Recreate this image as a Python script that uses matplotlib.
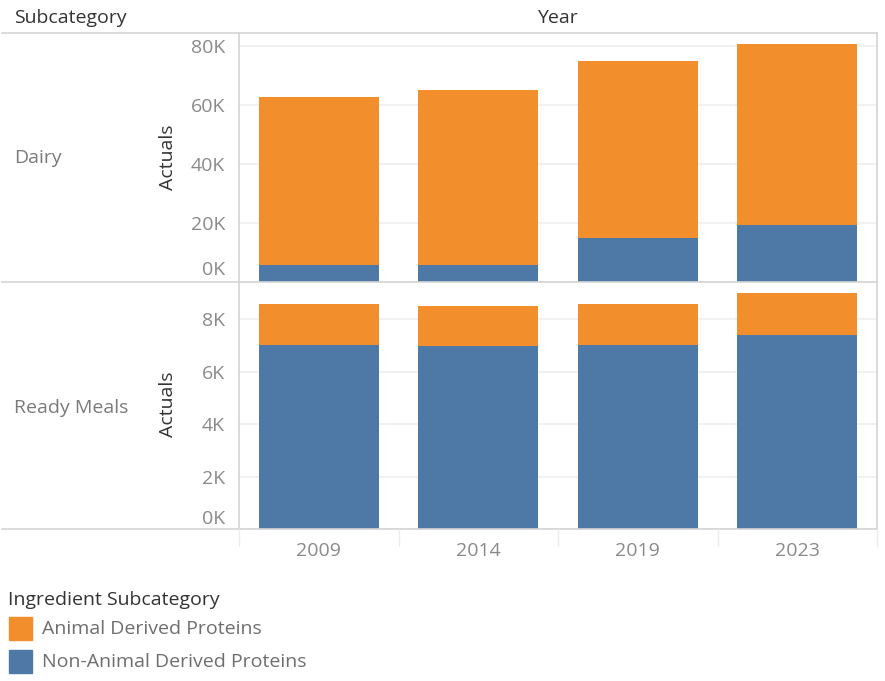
import matplotlib
matplotlib.use("Agg")
import matplotlib.pyplot as plt
import numpy as np
from matplotlib.transforms import ScaledTranslation
from matplotlib.lines import Line2D
from matplotlib.patches import Rectangle

plt.rcParams['font.family'] = ['Open Sans', 'DejaVu Sans']

years = ["2009", "2014", "2019", "2023"]
subcategories = ["Dairy", "Ready Meals"]
legend_labels = ["Animal Derived Proteins", "Non-Animal Derived Proteins"]

dairy_non_animal = [5.6, 5.6, 14.8, 19.4]      # K
dairy_animal = [57.2, 59.5, 60.2, 61.3]        # K
ready_non_animal = [7.02, 6.96, 7.01, 7.39]    # K
ready_animal = [1.56, 1.52, 1.55, 1.59]        # K

dairy_ticks = [0, 20, 40, 60, 80]
ready_ticks = [0, 2, 4, 6, 8]

ORANGE = "#F28E2B"
BLUE = "#4E79A7"
GRID = "#EFEFEF"
LINE = "#D4D4D4"
TICK = "#8A8A8A"
DARK = "#333333"
FS = 14
W, H = 885, 681

fig = plt.figure(figsize=(W / 100, H / 100), dpi=100)

def fx(px):
    return px / W

def fy(py):
    return 1 - py / H

left, right = 239, 877
top, mid, bot = 33, 282, 529

ax1 = fig.add_axes([fx(left), fy(mid), fx(right - left), (mid - top) / H])
ax2 = fig.add_axes([fx(left), fy(bot), fx(right - left), (bot - mid) / H])

x = np.arange(len(years))
panels = [
    (ax1, dairy_non_animal, dairy_animal, dairy_ticks, 84.4, 14),
    (ax2, ready_non_animal, ready_animal, ready_ticks, 9.41, 12),
]
for ax, nonan, anim, ticks, ymax, shift in panels:
    ax.bar(x, nonan, width=0.75, color=BLUE, zorder=3, edgecolor="none")
    ax.bar(x, anim, bottom=nonan, width=0.75, color=ORANGE, zorder=3, edgecolor="none")
    ax.set_xlim(-0.5, len(years) - 0.5)
    ax.set_ylim(0, ymax)
    ax.set_yticks(ticks)
    ax.set_yticklabels([f"{t}K" for t in ticks])
    ax.yaxis.grid(True, color=GRID, linewidth=1.2, zorder=0)
    ax.set_axisbelow(True)
    ax.tick_params(axis="y", length=0, pad=10, labelsize=FS, labelcolor=TICK)
    ax.tick_params(axis="x", length=0)
    for s in ax.spines.values():
        s.set_visible(False)
    ax.set_xticks([])
    lab = ax.get_yticklabels()[0]
    lab.set_transform(lab.get_transform() + ScaledTranslation(0, shift / 100, fig.dpi_scale_trans))
    ax.set_facecolor("none")

# x tick labels
for i, y in enumerate(years):
    fig.text(fx(left + (i + 0.5) * (right - left) / 4), fy(551), y, ha="center", va="center",
             fontsize=FS, color=TICK)

# frame lines
def hline(py, x0, x1, color=LINE, lw=1.2):
    fig.add_artist(Line2D([fx(x0), fx(x1)], [fy(py), fy(py)], color=color, lw=lw))

def vline(px, y0, y1, color=LINE, lw=1.2):
    fig.add_artist(Line2D([fx(px), fx(px)], [fy(y0), fy(y1)], color=color, lw=lw))

hline(top, 2, right)
hline(mid, 2, right)
hline(bot, 2, right)
vline(left, top, bot)
vline(right, top, bot)
for i in range(5):
    px = left + i * (right - left) / 4
    vline(px, bot, 546, color="#ECECEC", lw=1.0)

# headers
fig.text(fx(14), fy(18), "Subcategory", ha="left", va="center", fontsize=FS, color=DARK)
fig.text(fx(557), fy(18), "Year", ha="center", va="center", fontsize=FS, color=DARK)

# row labels
fig.text(fx(14), fy(158), subcategories[0], ha="left", va="center", fontsize=FS, color="#7A7A7A")
fig.text(fx(14), fy(408), subcategories[1], ha="left", va="center", fontsize=FS, color="#7A7A7A")

# axis titles
fig.text(fx(168), fy(157), "Actuals", rotation=90, ha="center", va="center", fontsize=FS, color=DARK)
fig.text(fx(168), fy(404), "Actuals", rotation=90, ha="center", va="center", fontsize=FS, color=DARK)

# legend
fig.text(fx(8), fy(600), "Ingredient Subcategory", ha="left", va="center", fontsize=FS, color=DARK)
for j, (lbl, col) in enumerate(zip(legend_labels, [ORANGE, BLUE])):
    y0 = 617 + j * 33
    fig.add_artist(Rectangle((fx(9), fy(y0 + 23)), fx(23), 23 / H, color=col,
                             transform=fig.transFigure))
    fig.text(fx(42), fy(y0 + 12), lbl, ha="left", va="center", fontsize=FS, color="#6E6E6E")

fig.savefig("out.png", dpi=100)
